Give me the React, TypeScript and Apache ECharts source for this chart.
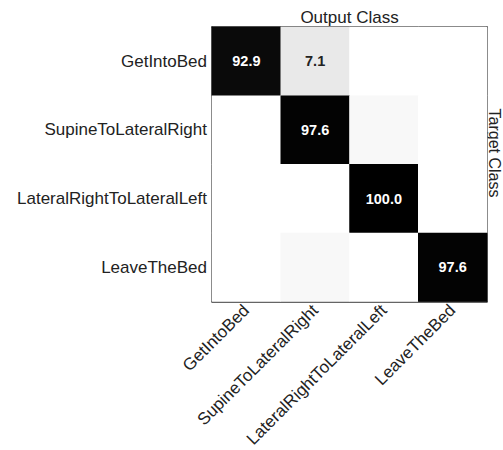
import React, { useEffect, useRef } from "react";
import * as echarts from "echarts";

const classes = [
  "GetIntoBed",
  "SupineToLateralRight",
  "LateralRightToLateralLeft",
  "LeaveTheBed",
];

// rows = target class, columns = output class (percent)
const rowGetIntoBed = [92.9, 7.1, 0, 0];
const rowSupine = [0, 97.6, 2.4, 0];
const rowLateral = [0, 0, 100.0, 0];
const rowLeave = [0, 2.4, 0, 97.6];
const matrix = [rowGetIntoBed, rowSupine, rowLateral, rowLeave];

const grayStops = [255, 224, 198, 172, 145, 119, 93, 67, 40, 14, 0];

const FONT = "Liberation Sans, Arial, Helvetica, sans-serif";

export default function App() {
  const ref = useRef<HTMLDivElement>(null);
  useEffect(() => {
    if (!ref.current) return;
    const chart = echarts.init(ref.current, undefined, { renderer: "svg" });
    const data: any[] = [];
    matrix.forEach((row, r) => {
      row.forEach((v, c) => {
        data.push({
          value: [c, r, v],
          label: {
            show: v >= 5,
            color: v > 50 ? "#ffffff" : "#222222",
          },
        });
      });
    });
    const axisLine = { show: true, lineStyle: { color: "#333333", width: 1.5 } };
    const axisTick = {
      show: true,
      inside: true,
      alignWithLabel: true,
      length: 3,
      lineStyle: { color: "#555555", width: 1 },
    };
    chart.setOption({
      animation: false,
      backgroundColor: "#ffffff",
      grid: { left: 212, top: 27, width: 275, height: 276, containLabel: false },
      graphic: [
        {
          type: "text",
          x: 494,
          y: 153,
          rotation: -Math.PI / 2,
          style: {
            text: "Target Class",
            fontFamily: FONT,
            fontSize: 16,
            fill: "#222222",
            align: "center",
            verticalAlign: "middle",
          },
        },
      ],
      xAxis: [
        {
          type: "category",
          data: classes,
          position: "bottom",
          axisLine,
          axisTick,
          splitLine: { show: false },
          axisLabel: {
            rotate: 45,
            interval: 0,
            margin: 6,
            fontFamily: FONT,
            fontSize: 17,
            color: "#222222",
          },
        },
        {
          type: "category",
          data: classes,
          position: "top",
          axisLine,
          axisTick,
          axisLabel: { show: false },
          name: "Output Class",
          nameLocation: "middle",
          nameGap: 1,
          nameTextStyle: {
            fontFamily: FONT,
            fontSize: 17,
            color: "#222222",
            verticalAlign: "bottom",
          },
        },
      ],
      yAxis: [
        {
          type: "category",
          data: classes,
          inverse: true,
          position: "left",
          axisLine,
          axisTick: { ...axisTick, show: false },
          axisLabel: {
            margin: 5,
            fontFamily: FONT,
            fontSize: 17,
            color: "#222222",
          },
        },
        {
          type: "category",
          data: classes,
          inverse: true,
          position: "right",
          axisLine,
          axisTick,
          axisLabel: { show: false },
        },
      ],
      visualMap: {
        show: false,
        min: 0,
        max: 100,
        dimension: 2,
        inRange: {
          color: grayStops.map((g) => `rgb(${g},${g},${g})`),
        },
      },
      series: [
        {
          type: "heatmap",
          data,
          label: {
            show: true,
            fontFamily: FONT,
            fontSize: 14.5,
            fontWeight: "bold",
            formatter: (p: any) => p.value[2].toFixed(1),
          },
          itemStyle: { borderWidth: 0 },
          emphasis: { disabled: true },
        },
      ],
    });
    return () => chart.dispose();
  }, []);
  return (
    <div
      ref={ref}
      style={{ position: "fixed", left: 0, top: 0, width: 503, height: 450 }}
    />
  );
}
